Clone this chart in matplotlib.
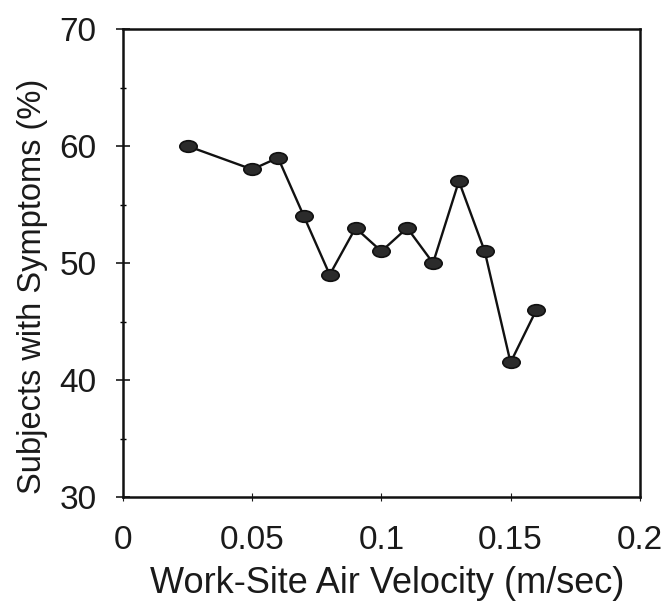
import matplotlib
matplotlib.use("Agg")
import matplotlib.pyplot as plt
from matplotlib.path import Path
from matplotlib.transforms import Affine2D
from matplotlib.ticker import MultipleLocator

plt.rcParams['font.family'] = ['Liberation Sans', 'DejaVu Sans']

air_velocity = [0.025, 0.05, 0.06, 0.07, 0.08, 0.09, 0.10, 0.11, 0.12, 0.13, 0.14, 0.15, 0.16]
symptoms_pct = [60, 58, 59, 54, 49, 53, 51, 53, 50, 57, 51, 41.5, 46]
x_ticks = [0, 0.05, 0.1, 0.15, 0.2]
x_tick_labels = ["0", "0.05", "0.1", "0.15", "0.2"]
y_ticks = [30, 40, 50, 60, 70]

fig = plt.figure(figsize=(6.65, 6.05), dpi=100)
ax = fig.add_axes([0.185, 0.1785, 0.777, 0.7735])

ellipse = Path.unit_circle().transformed(Affine2D().scale(1.5, 1.0))
ax.plot(air_velocity, symptoms_pct, color='#111111', lw=1.7,
        marker=ellipse, markersize=12.5, markerfacecolor='#2b2b2b',
        markeredgecolor='#111111', markeredgewidth=1.2, zorder=3)

ax.set_xlim(0, 0.2)
ax.set_ylim(30, 70)
ax.set_xticks(x_ticks)
ax.set_xticklabels(x_tick_labels)
ax.set_yticks(y_ticks)
ax.yaxis.set_minor_locator(MultipleLocator(5))
ax.tick_params(axis='both', which='major', direction='inout', length=10, width=1.2,
               labelsize=24, colors='#1a1a1a')
ax.tick_params(axis='x', which='major', length=6, width=0.8, pad=17)
ax.tick_params(axis='y', which='major', pad=14)
ax.tick_params(axis='y', which='minor', direction='inout', length=4, width=1)
for s in ax.spines.values():
    s.set_linewidth(1.8)
    s.set_color('#111111')

ax.set_xlabel('Work-Site Air Velocity (m/sec)', fontsize=26, color='#1a1a1a')
ax.set_ylabel('Subjects with Symptoms (%)', fontsize=23.5, color='#1a1a1a')
ax.xaxis.set_label_coords(0.512, -0.147)
ax.yaxis.set_label_coords(-0.145, 0.45)

fig.savefig('out.png', dpi=100)
